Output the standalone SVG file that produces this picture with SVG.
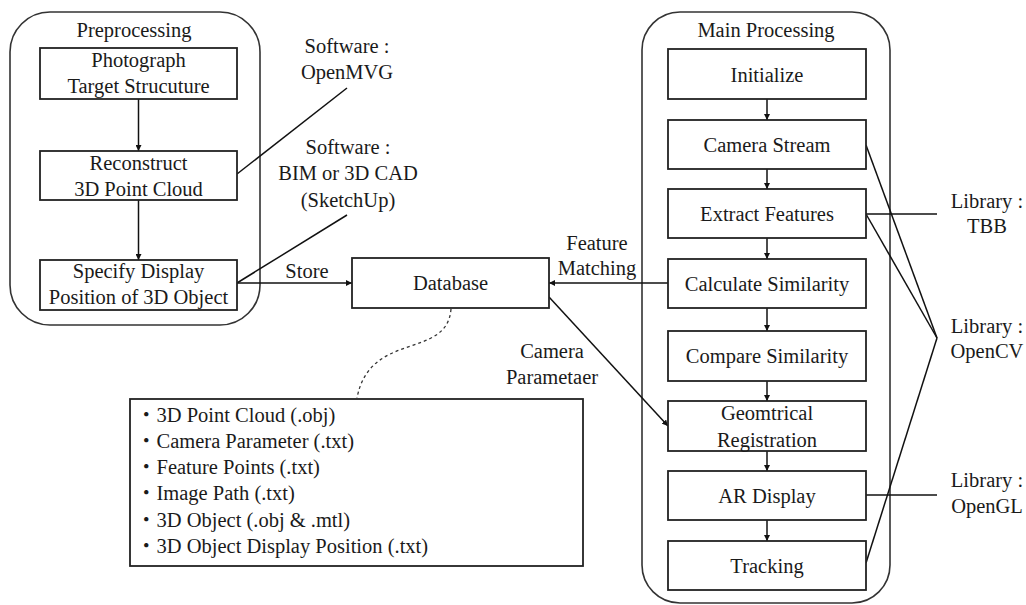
<svg xmlns="http://www.w3.org/2000/svg" width="1026" height="605" viewBox="0 0 1026 605">
<defs>
<style>
text{font-family:'Liberation Serif','Times New Roman',Times,'Noto Sans CJK JP',serif;font-size:20.5px;fill:#1a1a1a;text-anchor:middle}
.lst{text-anchor:start}
.box{fill:#fff;stroke:#222;stroke-width:1.8}
.cont{fill:none;stroke:#333;stroke-width:1.6}
.ln{fill:none;stroke:#111;stroke-width:1.5}
.dash{fill:none;stroke:#333;stroke-width:1.3;stroke-dasharray:3,3}
</style>
<marker id="ah" viewBox="0 0 8 8" refX="8" refY="4" markerWidth="6" markerHeight="6" orient="auto" markerUnits="userSpaceOnUse">
<path d="M0,0 L8,4 L0,8 z" fill="#111"/>
</marker>
</defs>
<rect width="1026" height="605" fill="#fff"/>

<g id="preprocessing">
<rect class="cont" x="10" y="12" width="250" height="313" rx="40" ry="40"/>
<text x="134" y="37">Preprocessing</text>
</g>
<g id="main-processing">
<rect class="cont" x="642" y="12" width="248" height="591" rx="38" ry="38"/>
<text x="766" y="37">Main Processing</text>
</g>

<g id="connectors">
<line class="ln" x1="138.5" y1="99" x2="138.5" y2="151" marker-end="url(#ah)"/>
<line class="ln" x1="138.5" y1="200" x2="138.5" y2="260" marker-end="url(#ah)"/>
<line class="ln" x1="237" y1="174" x2="347" y2="88"/>
<line class="ln" x1="237" y1="283" x2="347" y2="215"/>
<line class="ln" x1="237" y1="283" x2="352" y2="283" marker-end="url(#ah)"/>
<line class="ln" x1="668" y1="283" x2="549" y2="283" marker-end="url(#ah)"/>
<line class="ln" x1="549" y1="297" x2="668" y2="426" marker-end="url(#ah)"/>
<path class="dash" d="M451,309 C447,360 370,330 357,398"/>
<line class="ln" x1="767" y1="99" x2="767" y2="120" marker-end="url(#ah)"/>
<line class="ln" x1="767" y1="169" x2="767" y2="189" marker-end="url(#ah)"/>
<line class="ln" x1="767" y1="238" x2="767" y2="259" marker-end="url(#ah)"/>
<line class="ln" x1="767" y1="308" x2="767" y2="331" marker-end="url(#ah)"/>
<line class="ln" x1="767" y1="381" x2="767" y2="401" marker-end="url(#ah)"/>
<line class="ln" x1="767" y1="451" x2="767" y2="471" marker-end="url(#ah)"/>
<line class="ln" x1="767" y1="520" x2="767" y2="541" marker-end="url(#ah)"/>
<line class="ln" x1="866" y1="214" x2="937" y2="214"/>
<line class="ln" x1="866" y1="145" x2="937" y2="338"/>
<line class="ln" x1="866" y1="214" x2="937" y2="338"/>
<line class="ln" x1="866" y1="563" x2="937" y2="338"/>
<line class="ln" x1="866" y1="495" x2="937" y2="495"/>
</g>

<g id="photograph">
<rect class="box" x="40" y="48" width="197" height="51"/>
<text x="138.5" y="67">Photograph</text>
<text x="138.5" y="93">Target Strucuture</text>
</g>
<g id="reconstruct">
<rect class="box" x="40" y="151" width="197" height="49"/>
<text x="138.5" y="170">Reconstruct</text>
<text x="138.5" y="196">3D Point Cloud</text>
</g>
<g id="specify">
<rect class="box" x="40" y="260" width="197" height="50"/>
<text x="138.5" y="278">Specify Display</text>
<text x="138.5" y="304">Position of 3D Object</text>
</g>

<g id="software-openmvg">
<text x="347" y="53">Software :</text>
<text x="347" y="79">OpenMVG</text>
</g>
<g id="software-bim">
<text x="348" y="154">Software :</text>
<text x="348" y="180">BIM or 3D CAD</text>
<text x="348" y="207">(SketchUp)</text>
</g>
<g id="store-label"><text x="307" y="278">Store</text></g>

<g id="database">
<rect class="box" x="352" y="258" width="197" height="50"/>
<text x="450.5" y="290">Database</text>
</g>

<g id="feature-matching-label">
<text x="597" y="250">Feature</text>
<text x="597" y="275">Matching</text>
</g>
<g id="camera-param-label">
<text x="552" y="358">Camera</text>
<text x="552" y="384">Parametaer</text>
</g>

<g id="db-contents">
<rect class="box" x="130" y="399" width="453" height="167"/>
<text class="lst" x="136" y="422">・3D Point Cloud (.obj)</text>
<text class="lst" x="136" y="448">・Camera Parameter (.txt)</text>
<text class="lst" x="136" y="474">・Feature Points (.txt)</text>
<text class="lst" x="136" y="500">・Image Path (.txt)</text>
<text class="lst" x="136" y="527">・3D Object (.obj &amp; .mtl)</text>
<text class="lst" x="136" y="553">・3D Object Display Position (.txt)</text>
</g>

<g id="initialize">
<rect class="box" x="668" y="49" width="198" height="50"/>
<text x="767" y="82">Initialize</text>
</g>
<g id="camera-stream">
<rect class="box" x="668" y="120" width="198" height="49"/>
<text x="767" y="152">Camera Stream</text>
</g>
<g id="extract-features">
<rect class="box" x="668" y="189" width="198" height="49"/>
<text x="767" y="221">Extract Features</text>
</g>
<g id="calculate-similarity">
<rect class="box" x="668" y="259" width="198" height="49"/>
<text x="767" y="291">Calculate Similarity</text>
</g>
<g id="compare-similarity">
<rect class="box" x="668" y="331" width="198" height="50"/>
<text x="767" y="363">Compare Similarity</text>
</g>
<g id="geometrical-registration">
<rect class="box" x="668" y="401" width="198" height="50"/>
<text x="767" y="420">Geomtrical</text>
<text x="767" y="447">Registration</text>
</g>
<g id="ar-display">
<rect class="box" x="668" y="471" width="198" height="49"/>
<text x="767" y="503">AR Display</text>
</g>
<g id="tracking">
<rect class="box" x="668" y="541" width="198" height="49"/>
<text x="767" y="573">Tracking</text>
</g>

<g id="lib-tbb">
<text x="987" y="208">Library :</text>
<text x="987" y="233">TBB</text>
</g>
<g id="lib-opencv">
<text x="987" y="333">Library :</text>
<text x="987" y="358">OpenCV</text>
</g>
<g id="lib-opengl">
<text x="987" y="487">Library :</text>
<text x="987" y="513">OpenGL</text>
</g>
</svg>
